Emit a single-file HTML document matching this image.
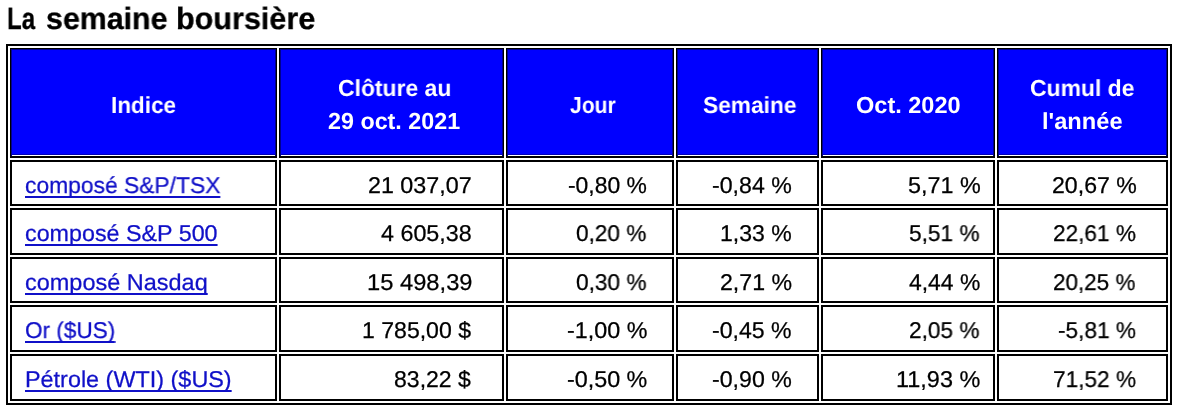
<!DOCTYPE html>
<html><head><meta charset="utf-8"><style>
html,body{margin:0;padding:0;background:#fff;width:1179px;height:414px;overflow:hidden;}
body{position:relative;font-family:"Liberation Sans",sans-serif;}
span.t{position:absolute;white-space:nowrap;transform-origin:0 0;text-rendering:geometricPrecision;will-change:transform;}
.ti{-webkit-text-stroke:0.3px #000;font-weight:bold;font-size:30.8px;line-height:36px;color:#000;}
.hd{font-weight:bold;font-size:23.2px;line-height:28px;color:#fff;}
.dt{-webkit-text-stroke:0.25px #000;font-size:22.9px;line-height:28px;color:#000;}
.lk{-webkit-text-stroke:0.25px #1010c8;font-size:22.9px;line-height:28px;color:#1010c8;text-decoration:underline;text-decoration-thickness:2px;text-decoration-skip-ink:none;text-underline-offset:3px;}
#tbl{position:absolute;left:6px;top:44px;width:1162px;height:357px;border:2px solid #000;}
.c{position:absolute;box-sizing:border-box;border:2px solid #000;}
.h{background:#0000ff;border-width:1px 1px 2px 1px;box-shadow:inset 1px 0 0 #000090,inset -1px 0 0 #000090,inset 0 1px 0 #000090,inset 0 -1px 0 #fff,inset 0 -2px 0 #0000b4;}
</style></head><body>
<div id="tbl"></div>

<div class="c h" style="left:10px;top:48px;width:267px;height:110px"></div>
<div class="c h" style="left:279px;top:48px;width:225px;height:110px"></div>
<div class="c h" style="left:506px;top:48px;width:168px;height:110px"></div>
<div class="c h" style="left:676px;top:48px;width:143px;height:110px"></div>
<div class="c h" style="left:821px;top:48px;width:174px;height:110px"></div>
<div class="c h" style="left:997px;top:48px;width:171px;height:110px"></div>
<div class="c" style="left:10px;top:160px;width:267px;height:46px"></div>
<div class="c" style="left:279px;top:160px;width:225px;height:46px"></div>
<div class="c" style="left:506px;top:160px;width:168px;height:46px"></div>
<div class="c" style="left:676px;top:160px;width:143px;height:46px"></div>
<div class="c" style="left:821px;top:160px;width:174px;height:46px"></div>
<div class="c" style="left:997px;top:160px;width:171px;height:46px"></div>
<div class="c" style="left:10px;top:208px;width:267px;height:47px"></div>
<div class="c" style="left:279px;top:208px;width:225px;height:47px"></div>
<div class="c" style="left:506px;top:208px;width:168px;height:47px"></div>
<div class="c" style="left:676px;top:208px;width:143px;height:47px"></div>
<div class="c" style="left:821px;top:208px;width:174px;height:47px"></div>
<div class="c" style="left:997px;top:208px;width:171px;height:47px"></div>
<div class="c" style="left:10px;top:257px;width:267px;height:46px"></div>
<div class="c" style="left:279px;top:257px;width:225px;height:46px"></div>
<div class="c" style="left:506px;top:257px;width:168px;height:46px"></div>
<div class="c" style="left:676px;top:257px;width:143px;height:46px"></div>
<div class="c" style="left:821px;top:257px;width:174px;height:46px"></div>
<div class="c" style="left:997px;top:257px;width:171px;height:46px"></div>
<div class="c" style="left:10px;top:305px;width:267px;height:47px"></div>
<div class="c" style="left:279px;top:305px;width:225px;height:47px"></div>
<div class="c" style="left:506px;top:305px;width:168px;height:47px"></div>
<div class="c" style="left:676px;top:305px;width:143px;height:47px"></div>
<div class="c" style="left:821px;top:305px;width:174px;height:47px"></div>
<div class="c" style="left:997px;top:305px;width:171px;height:47px"></div>
<div class="c" style="left:10px;top:354px;width:267px;height:47px"></div>
<div class="c" style="left:279px;top:354px;width:225px;height:47px"></div>
<div class="c" style="left:506px;top:354px;width:168px;height:47px"></div>
<div class="c" style="left:676px;top:354px;width:143px;height:47px"></div>
<div class="c" style="left:821px;top:354px;width:174px;height:47px"></div>
<div class="c" style="left:997px;top:354px;width:171px;height:47px"></div>
<span id="title0" class="t ti" style="left:7px;top:1px;transform:scaleX(0.7846);">La</span>
<span id="title1" class="t ti" style="left:46px;top:1px;transform:scaleX(0.9847);">semaine</span>
<span id="title2" class="t ti" style="left:176px;top:1px;transform:scaleX(0.9923);">boursière</span>
<span id="h0_0" class="t hd" style="left:111px;top:91px;transform:scaleX(0.9716);">Indice</span>
<span id="h1_0" class="t hd" style="left:338px;top:74px;transform:scaleX(0.9887);">Clôture au</span>
<span id="h1_1" class="t hd" style="left:328px;top:107px;transform:scaleX(1.0052);">29 oct. 2021</span>
<span id="h2_0" class="t hd" style="left:570px;top:91px;transform:scaleX(0.9098);">Jour</span>
<span id="h3_0" class="t hd" style="left:703px;top:91px;transform:scaleX(0.9804);">Semaine</span>
<span id="h4_0" class="t hd" style="left:856px;top:91px;transform:scaleX(1.0146);">Oct. 2020</span>
<span id="h5_0" class="t hd" style="left:1030px;top:74px;transform:scaleX(0.9884);">Cumul de</span>
<span id="h5_1" class="t hd" style="left:1042px;top:107px;transform:scaleX(1.0206);">l'année</span>
<span id="d0_0" class="t lk" style="left:25px;top:171px;transform:scaleX(0.9970);">composé S&amp;P/TSX</span>
<span id="d0_1" class="t dt" style="left:368px;top:171px;transform:scaleX(1.0174);">21 037,07</span>
<span id="d0_2" class="t dt" style="left:568px;top:171px;transform:scaleX(0.9952);">-0,80 %</span>
<span id="d0_3" class="t dt" style="left:712px;top:171px;transform:scaleX(1.0111);">-0,84 %</span>
<span id="d0_4" class="t dt" style="left:908px;top:171px;transform:scaleX(1.0203);">5,71 %</span>
<span id="d0_5" class="t dt" style="left:1052px;top:171px;transform:scaleX(1.0096);">20,67 %</span>
<span id="d1_0" class="t lk" style="left:25px;top:219px;transform:scaleX(1.0179);">composé S&amp;P 500</span>
<span id="d1_1" class="t dt" style="left:381px;top:219px;transform:scaleX(1.0178);">4 605,38</span>
<span id="d1_2" class="t dt" style="left:576px;top:219px;transform:scaleX(0.9872);">0,20 %</span>
<span id="d1_3" class="t dt" style="left:720px;top:219px;transform:scaleX(1.0066);">1,33 %</span>
<span id="d1_4" class="t dt" style="left:909px;top:219px;transform:scaleX(0.9899);">5,51 %</span>
<span id="d1_5" class="t dt" style="left:1053px;top:219px;transform:scaleX(0.9867);">22,61 %</span>
<span id="d2_0" class="t lk" style="left:25px;top:268px;transform:scaleX(1.0257);">composé Nasdaq</span>
<span id="d2_1" class="t dt" style="left:367px;top:268px;transform:scaleX(1.0361);">15 498,39</span>
<span id="d2_2" class="t dt" style="left:576px;top:268px;transform:scaleX(0.9894);">0,30 %</span>
<span id="d2_3" class="t dt" style="left:720px;top:268px;transform:scaleX(1.0112);">2,71 %</span>
<span id="d2_4" class="t dt" style="left:909px;top:268px;transform:scaleX(0.9997);">4,44 %</span>
<span id="d2_5" class="t dt" style="left:1053px;top:268px;transform:scaleX(0.9805);">20,25 %</span>
<span id="d3_0" class="t lk" style="left:25px;top:316px;transform:scaleX(0.9844);">Or ($US)</span>
<span id="d3_1" class="t dt" style="left:362px;top:316px;transform:scaleX(1.0074);">1 785,00 $</span>
<span id="d3_2" class="t dt" style="left:567px;top:316px;transform:scaleX(1.0189);">-1,00 %</span>
<span id="d3_3" class="t dt" style="left:712px;top:316px;transform:scaleX(1.0091);">-0,45 %</span>
<span id="d3_4" class="t dt" style="left:909px;top:316px;transform:scaleX(0.9889);">2,05 %</span>
<span id="d3_5" class="t dt" style="left:1058px;top:316px;transform:scaleX(0.9889);">-5,81 %</span>
<span id="d4_0" class="t lk" style="left:25px;top:365px;transform:scaleX(1.0220);">Pétrole (WTI) ($US)</span>
<span id="d4_1" class="t dt" style="left:394px;top:365px;transform:scaleX(1.0065);">83,22 $</span>
<span id="d4_2" class="t dt" style="left:567px;top:365px;transform:scaleX(1.0185);">-0,50 %</span>
<span id="d4_3" class="t dt" style="left:712px;top:365px;transform:scaleX(1.0111);">-0,90 %</span>
<span id="d4_4" class="t dt" style="left:896px;top:365px;transform:scaleX(1.0245);">11,93 %</span>
<span id="d4_5" class="t dt" style="left:1053px;top:365px;transform:scaleX(0.9887);">71,52 %</span>
</body></html>
